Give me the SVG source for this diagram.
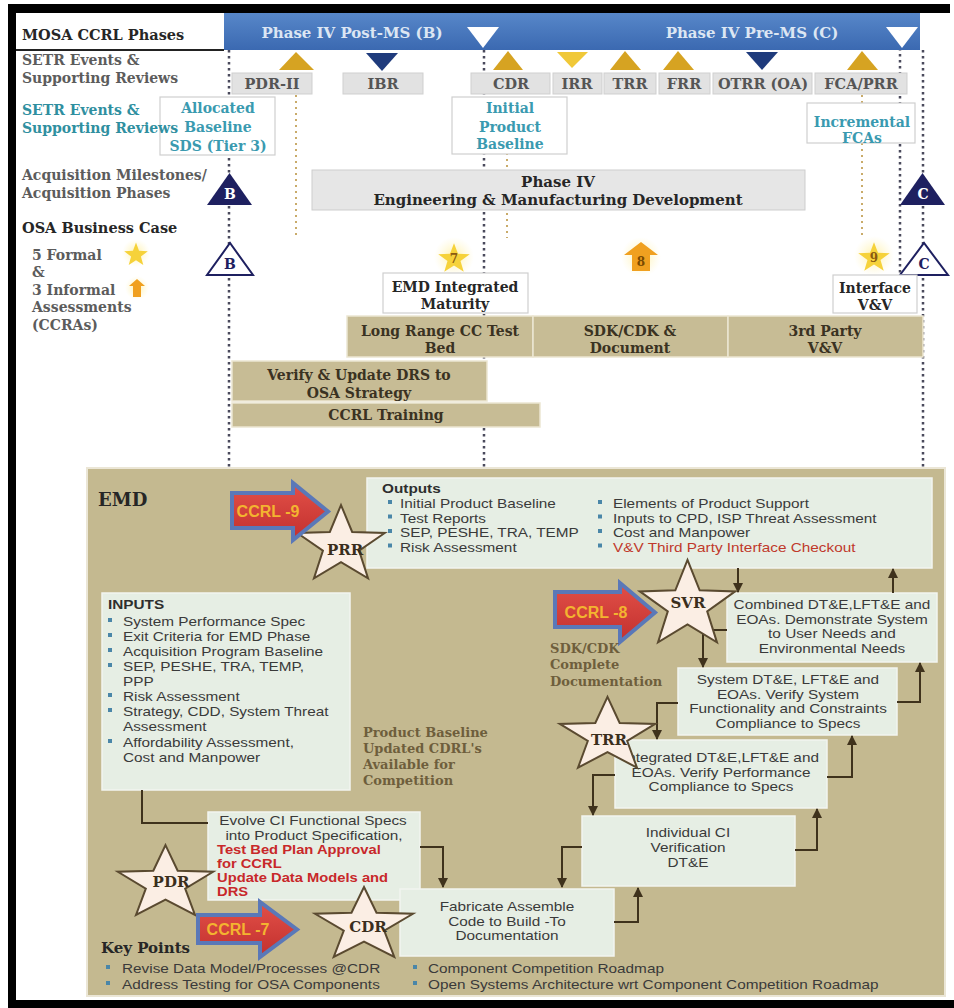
<svg xmlns="http://www.w3.org/2000/svg" width="954" height="1008" viewBox="0 0 954 1008">
<defs>
<linearGradient id="blueBar" x1="0" y1="0" x2="0" y2="1">
<stop offset="0" stop-color="#5787c9"/><stop offset="1" stop-color="#3b69b1"/>
</linearGradient>
<linearGradient id="ccrlFill" x1="0" y1="0" x2="0" y2="1">
<stop offset="0" stop-color="#e25048"/><stop offset="1" stop-color="#c2302e"/>
</linearGradient>
<radialGradient id="glow">
<stop offset="0" stop-color="#fff0a0" stop-opacity="0.95"/><stop offset="1" stop-color="#fff6c8" stop-opacity="0"/>
</radialGradient>
<path id="star" d="M0,-46 L11.17,-15.37 L43.75,-14.21 L18.07,5.87 L27.04,37.21 L0,19 L-27.04,37.21 L-18.07,5.87 L-43.75,-14.21 L-11.17,-15.37 Z" vector-effect="non-scaling-stroke"/>
<marker id="ah" viewBox="0 0 10 10" refX="9" refY="5" markerWidth="5" markerHeight="5" orient="auto" markerUnits="strokeWidth">
<path d="M0,0 L10,5 L0,10 Z" fill="#3f321c"/>
</marker>
<style>
.ser{font-family:"DejaVu Serif","Liberation Serif",serif;font-weight:bold}
.sans{font-family:"Liberation Sans",Arial,sans-serif}
.mid{text-anchor:middle}
.gray{fill:#5c5c5c;font-size:14px}
.dark{fill:#262626}
.teal{fill:#2f8fa0;font-size:14px}
.hdr{fill:#dce6f3;font-size:15px}
.setr{fill:#e2e2e2;stroke:#cfcfcf;stroke-width:1}
.setrT{fill:#555;font-size:14.5px}
.gold{fill:#d6a322}
.navy{fill:#1f3b7c}
.dotD{stroke:#4a4a5c;stroke-width:2.5;stroke-dasharray:2.5 3.5;fill:none}
.dotT{stroke:#c9ab6a;stroke-width:2;stroke-dasharray:2 4;fill:none}
.wbox{fill:#ffffff;stroke:#cfcfcf;stroke-width:1.2}
.tan{fill:#c7bc95;stroke:#ece6d2;stroke-width:1.5}
.tanT{fill:#3a3222;font-size:14px}
.emd{fill:#c4b990;stroke:#ebe6d6;stroke-width:2}
.gbox{fill:#e6eee4;stroke:#f2f5f0;stroke-width:1.5}
.body{fill:#3a3a3a;font-size:13px}
.hd{fill:#2e2e2e;font-size:13px;font-weight:bold}
.red{fill:#c8282a;font-size:12.5px;font-weight:bold}
.blt{fill:#4a86a8}
.bstar{fill:#fbeee4;stroke:#5a4a30;stroke-width:2}
.starT{fill:#3a2e1c;font-size:15px}
.ccrl{fill:url(#ccrlFill);stroke:#5a78b8;stroke-width:4;stroke-linejoin:miter}
.ccrlT{fill:#f3b430;font-size:16px;font-weight:bold}
.brown{fill:#6e5e3c;font-size:13px}
.conn{fill:none;stroke:#3f321c;stroke-width:2}
</style>
</defs>

<g id="frame">
<rect x="0" y="0" width="954" height="1008" fill="#ffffff"/>
<rect x="8" y="4" width="942" height="9" fill="#000"/>
<rect x="8" y="4" width="8" height="1004" fill="#000"/>
<rect x="8" y="1000" width="946" height="8" fill="#000"/>
</g>

<g id="guides">
<line class="dotD" x1="229" y1="50" x2="229" y2="468"/>
<line class="dotD" x1="484" y1="50" x2="484" y2="468"/>
<line class="dotD" x1="900" y1="48" x2="900" y2="275"/>
<line class="dotD" x1="923" y1="50" x2="923" y2="468"/>
<line class="dotT" x1="296" y1="95" x2="296" y2="238"/>
<line class="dotT" x1="507" y1="153" x2="507" y2="238"/>
<line class="dotT" x1="862" y1="95" x2="862" y2="238"/>
</g>

<g id="phase-bar">
<rect x="224" y="13" width="696" height="37" fill="url(#blueBar)"/>
<text class="ser hdr mid" x="352" y="38">Phase IV Post-MS (B)</text>
<text class="ser hdr mid" x="752" y="38">Phase IV Pre-MS (C)</text>
<polygon points="467,27 499,27 483,48" fill="#ffffff"/>
<polygon points="886,27 918,27 902,48" fill="#ffffff"/>
</g>

<g id="row-labels">
<text class="ser dark" x="22" y="40" font-size="14.5">MOSA CCRL Phases</text>
<rect x="16" y="49" width="208" height="2" fill="#222"/>
<text class="ser gray" x="22" y="65">SETR Events &amp;</text>
<text class="ser gray" x="22" y="83">Supporting Reviews</text>
<text class="ser gray" x="22" y="180">Acquisition Milestones/</text>
<text class="ser gray" x="22" y="198">Acquisition Phases</text>
<text class="ser dark" x="22" y="233" font-size="14.5">OSA Business Case</text>
<text class="ser gray" x="32" y="260">5 Formal</text>
<text class="ser gray" x="32" y="277">&amp;</text>
<text class="ser gray" x="32" y="295">3 Informal</text>
<text class="ser gray" x="32" y="312">Assessments</text>
<text class="ser gray" x="32" y="330">(CCRAs)</text>
</g>

<g id="legend-icons">
<circle cx="136" cy="253" r="14" fill="url(#glow)"/>
<use href="#star" transform="translate(136,255) scale(0.27)" fill="#f6d23a"/>
<circle cx="137" cy="288" r="12" fill="url(#glow)"/>
<polygon points="137,279 145,286 141,286 141,297 133,297 133,286 129,286" fill="#f0a020"/>
</g>

<g id="setr-reviews">
<g id="pdr2"><polygon class="gold" points="279,70 314,70 296,52"/><rect class="setr" x="232" y="73" width="80" height="21"/><text class="ser setrT mid" x="272" y="89">PDR-II</text></g>
<g id="ibr"><polygon class="navy" points="366,53 398,53 382,71"/><rect class="setr" x="343" y="73" width="80" height="21"/><text class="ser setrT mid" x="383" y="89">IBR</text></g>
<g id="cdr-top"><polygon class="gold" points="493,70 523,70 508,51"/><rect class="setr" x="471" y="73" width="79" height="21"/><text class="ser setrT mid" x="511" y="89">CDR</text></g>
<g id="irr"><polygon points="557,52 588,52 572,68" fill="#f0c838"/><rect class="setr" x="553" y="73" width="49" height="21"/><text class="ser setrT mid" x="577" y="89">IRR</text></g>
<g id="trr-top"><polygon class="gold" points="610,70 641,70 625,51"/><rect class="setr" x="604" y="73" width="52" height="21"/><text class="ser setrT mid" x="630" y="89">TRR</text></g>
<g id="frr"><polygon class="gold" points="663,70 694,70 678,51"/><rect class="setr" x="659" y="73" width="51" height="21"/><text class="ser setrT mid" x="684" y="89">FRR</text></g>
<g id="otrr"><polygon class="navy" points="746,52 778,52 762,70"/><rect class="setr" x="713" y="73" width="99" height="21"/><text class="ser setrT mid" x="763" y="89">OTRR (OA)</text></g>
<g id="fca-prr"><polygon class="gold" points="847,70 878,70 862,51"/><rect class="setr" x="815" y="73" width="92" height="21"/><text class="ser setrT mid" x="861" y="89">FCA/PRR</text></g>
</g>

<g id="allocated-baseline">
<rect class="wbox" x="160" y="97" width="115" height="58"/>
<text class="ser mid" x="218" y="113" font-size="14" fill="#3a9ab0">Allocated</text>
<text class="ser mid" x="218" y="132" font-size="14" fill="#3a9ab0">Baseline</text>
<text class="ser mid" x="218" y="151" font-size="14" fill="#3a9ab0">SDS (Tier 3)</text>
</g>
<g id="setr-teal-label">
<text class="ser teal" x="22" y="115">SETR Events &amp;</text>
<text class="ser teal" x="22" y="133">Supporting Reviews</text>
</g>

<g id="initial-product-baseline">
<rect class="wbox" x="452" y="97" width="115" height="57"/>
<text class="ser mid" x="510" y="113" font-size="14" fill="#3a9ab0">Initial</text>
<text class="ser mid" x="510" y="132" font-size="14" fill="#3a9ab0">Product</text>
<text class="ser mid" x="510" y="149" font-size="14" fill="#3a9ab0">Baseline</text>
</g>

<g id="incremental-fcas">
<rect class="wbox" x="807" y="103" width="108" height="40"/>
<text class="ser mid" x="862" y="127" font-size="14" fill="#3a9ab0">Incremental</text>
<text class="ser mid" x="862" y="143" font-size="14" fill="#3a9ab0">FCAs</text>
</g>

<g id="milestone-b">
<polygon points="207,205 252,205 229.5,173" fill="#1e2060"/>
<text class="ser mid" x="230" y="199" font-size="14" fill="#ffffff">B</text>
</g>
<g id="business-case-b">
<polygon points="207,275 253,275 230,243" fill="#ffffff" stroke="#1e2060" stroke-width="2"/>
<text class="ser mid" x="230" y="269" font-size="14" fill="#1e2060">B</text>
</g>
<g id="milestone-c">
<polygon points="900,205 945,205 922.5,173" fill="#1e2060"/>
<text class="ser mid" x="923" y="199" font-size="14" fill="#ffffff">C</text>
</g>
<g id="business-case-c">
<polygon points="900,275 948,275 924,243" fill="#ffffff" stroke="#1e2060" stroke-width="2"/>
<text class="ser mid" x="924" y="269" font-size="14" fill="#1e2060">C</text>
</g>

<g id="phase-iv-emd">
<rect x="312" y="170" width="493" height="40" fill="#e6e6e6" stroke="#cdcdcd" stroke-width="1"/>
<text class="ser dark mid" x="558" y="187" font-size="15">Phase IV</text>
<text class="ser dark mid" x="558" y="205" font-size="15">Engineering &amp; Manufacturing Development</text>
</g>

<g id="assessment-7">
<circle cx="454" cy="257" r="20" fill="url(#glow)"/>
<use href="#star" transform="translate(454,259) scale(0.36,0.34)" fill="#f6d23a"/>
<text class="ser mid" x="454" y="263" font-size="12" fill="#8a5a10">7</text>
</g>
<g id="assessment-8">
<circle cx="641" cy="257" r="20" fill="url(#glow)"/>
<polygon points="641,242 658,255 650,255 650,271 632,271 632,255 624,255" fill="#f0a020"/>
<text class="ser mid" x="641" y="266" font-size="12" fill="#7a4a00">8</text>
</g>
<g id="assessment-9">
<circle cx="874" cy="256" r="20" fill="url(#glow)"/>
<use href="#star" transform="translate(874,258) scale(0.36,0.34)" fill="#f6d23a"/>
<text class="ser mid" x="874" y="262" font-size="12" fill="#8a5a10">9</text>
</g>

<g id="emd-integrated-maturity">
<rect class="wbox" x="383" y="273" width="145" height="40"/>
<text class="ser dark mid" x="455" y="292" font-size="14">EMD Integrated</text>
<text class="ser dark mid" x="455" y="309" font-size="14">Maturity</text>
</g>
<g id="interface-vv">
<rect class="wbox" x="833" y="275" width="84" height="38"/>
<text class="ser dark mid" x="875" y="293" font-size="14">Interface</text>
<text class="ser dark mid" x="875" y="310" font-size="14">V&amp;V</text>
</g>

<g id="long-range-test-bed">
<rect class="tan" x="347" y="316" width="186" height="41"/>
<text class="ser tanT mid" x="440" y="336">Long Range CC Test</text>
<text class="ser tanT mid" x="440" y="353">Bed</text>
</g>
<g id="sdk-cdk-document">
<rect class="tan" x="533" y="316" width="195" height="41"/>
<text class="ser tanT mid" x="630" y="336">SDK/CDK &amp;</text>
<text class="ser tanT mid" x="630" y="353">Document</text>
</g>
<g id="third-party-vv">
<rect class="tan" x="728" y="316" width="195" height="41"/>
<text class="ser tanT mid" x="825" y="336">3rd Party</text>
<text class="ser tanT mid" x="825" y="353">V&amp;V</text>
</g>
<g id="verify-update-drs">
<rect class="tan" x="232" y="361" width="255" height="40"/>
<text class="ser tanT mid" x="359" y="380">Verify &amp; Update DRS to</text>
<text class="ser tanT mid" x="359" y="398">OSA Strategy</text>
</g>
<g id="ccrl-training">
<rect class="tan" x="232" y="403" width="308" height="24"/>
<text class="ser tanT mid" x="386" y="420">CCRL Training</text>
</g>

<g id="emd-panel">
<rect class="emd" x="87" y="468" width="858" height="528"/>
<text class="ser dark" x="98" y="506" font-size="18">EMD</text>
</g>

<g id="outputs">
<rect class="gbox" x="367" y="478" width="565" height="90"/>
<rect class="blt" x="388" y="500" width="4" height="4"/>
<rect class="blt" x="388" y="514.5" width="4" height="4"/>
<rect class="blt" x="388" y="529" width="4" height="4"/>
<rect class="blt" x="388" y="543.5" width="4" height="4"/>
<rect class="blt" x="598" y="500" width="4" height="4"/>
<rect class="blt" x="598" y="514.5" width="4" height="4"/>
<rect class="blt" x="598" y="529" width="4" height="4"/>
<rect class="blt" x="598" y="543.5" width="4" height="4"/>
<g transform="matrix(1.18,0,0,1,-68.76,0)">
<text class="sans hd" x="382" y="493.4">Outputs</text>
</g>
<g transform="matrix(1.18,0,0,1,-72,0)">
<text class="sans body" x="400" y="508">Initial Product Baseline</text>
<text class="sans body" x="400" y="522.6">Test Reports</text>
<text class="sans body" x="400" y="537.2">SEP, PESHE, TRA, TEMP</text>
<text class="sans body" x="400" y="551.8">Risk Assessment</text>
</g>
<g transform="matrix(1.18,0,0,1,-110.34,0)">
<text class="sans body" x="613" y="508">Elements  of Product Support</text>
<text class="sans body" x="613" y="522.6">Inputs to CPD, ISP Threat Assessment</text>
<text class="sans body" x="613" y="537.2">Cost and Manpower</text>
<text class="sans" x="613" y="551.8" font-size="13" fill="#c0392b">V&amp;V Third Party Interface Checkout</text>
</g>
</g>

<g id="inputs">
<rect class="gbox" x="102" y="593" width="248" height="197"/>
<rect class="blt" x="108" y="618" width="4" height="4"/>
<rect class="blt" x="108" y="633" width="4" height="4"/>
<rect class="blt" x="108" y="648" width="4" height="4"/>
<rect class="blt" x="108" y="663" width="4" height="4"/>
<rect class="blt" x="108" y="693" width="4" height="4"/>
<rect class="blt" x="108" y="708" width="4" height="4"/>
<rect class="blt" x="108" y="739" width="4" height="4"/>
<g transform="matrix(1.18,0,0,1,-19.44,0)">
<text class="sans hd" x="108" y="609">INPUTS</text>
</g>
<g transform="matrix(1.18,0,0,1,-22.14,0)">
<text class="sans body" x="123" y="626">System Performance Spec</text>
<text class="sans body" x="123" y="641">Exit  Criteria  for EMD Phase</text>
<text class="sans body" x="123" y="656">Acquisition  Program Baseline</text>
<text class="sans body" x="123" y="671">SEP, PESHE, TRA, TEMP,</text>
<text class="sans body" x="123" y="686">PPP</text>
<text class="sans body" x="123" y="701">Risk Assessment</text>
<text class="sans body" x="123" y="716">Strategy, CDD, System Threat</text>
<text class="sans body" x="123" y="731">Assessment</text>
<text class="sans body" x="123" y="747">Affordability Assessment,</text>
<text class="sans body" x="123" y="762">Cost and Manpower</text>
</g>
</g>

<g id="combined-dte">
<rect class="gbox" x="727" y="593" width="210" height="69"/>
<g transform="matrix(1.18,0,0,1,-149.76,0)">
<text class="sans body mid" x="832" y="609">Combined DT&amp;E,LFT&amp;E and</text>
<text class="sans body mid" x="832" y="623.6">EOAs.  Demonstrate System</text>
<text class="sans body mid" x="832" y="638.2">to User Needs and</text>
<text class="sans body mid" x="832" y="652.8">Environmental Needs</text>
</g>
</g>
<g id="system-dte">
<rect class="gbox" x="678" y="668" width="219" height="67"/>
<g transform="matrix(1.18,0,0,1,-141.84,0)">
<text class="sans body mid" x="788" y="684">System DT&amp;E, LFT&amp;E and</text>
<text class="sans body mid" x="788" y="698.6">EOAs.  Verify System</text>
<text class="sans body mid" x="788" y="713.2">Functionality  and Constraints</text>
<text class="sans body mid" x="788" y="727.8">Compliance to Specs</text>
</g>
</g>
<g id="integrated-dte">
<rect class="gbox" x="615" y="740" width="212" height="68"/>
<g transform="matrix(1.18,0,0,1,-129.78,0)">
<text class="sans body mid" x="721" y="762">Integrated DT&amp;E,LFT&amp;E and</text>
<text class="sans body mid" x="721" y="776.6">EOAs.  Verify Performance</text>
<text class="sans body mid" x="721" y="791.2">Compliance to Specs</text>
</g>
</g>
<g id="individual-ci">
<rect class="gbox" x="582" y="816" width="213" height="70"/>
<g transform="matrix(1.18,0,0,1,-123.84,0)">
<text class="sans body mid" x="688" y="837">Individual CI</text>
<text class="sans body mid" x="688" y="852">Verification</text>
<text class="sans body mid" x="688" y="867">DT&amp;E</text>
</g>
</g>
<g id="evolve-ci">
<rect class="gbox" x="208" y="812" width="212" height="88"/>
<g transform="matrix(1.18,0,0,1,-39.06,0)">
<text class="sans body mid" x="298.4" y="825">Evolve CI Functional Specs</text>
<text class="sans body mid" x="299.2" y="839.6">into Product Specification,</text>
<text class="sans red" x="217" y="853.8">Test Bed Plan Approval</text>
<text class="sans red" x="217" y="867.8">for CCRL</text>
<text class="sans red" x="217" y="881.8">Update Data Models and</text>
<text class="sans red" x="217" y="895.8">DRS</text>
</g>
</g>
<g id="fabricate">
<rect class="gbox" x="400" y="889" width="214" height="67"/>
<g transform="matrix(1.18,0,0,1,-91.26,0)">
<text class="sans body mid" x="507" y="911">Fabricate  Assemble</text>
<text class="sans body mid" x="507" y="925.6">Code to Build -To</text>
<text class="sans body mid" x="507" y="940.2">Documentation</text>
</g>
</g>

<g id="connectors">
<path class="conn" d="M142,790 V823 H208"/>
<path class="conn" d="M420,847 H443 V887" marker-end="url(#ah)"/>
<path class="conn" d="M614,922 H638 V888" marker-end="url(#ah)"/>
<path class="conn" d="M582,847 H562 V887" marker-end="url(#ah)"/>
<path class="conn" d="M795,850 H817 V809" marker-end="url(#ah)"/>
<path class="conn" d="M615,775 H593 V815" marker-end="url(#ah)"/>
<path class="conn" d="M827,777 H852 V736" marker-end="url(#ah)"/>
<path class="conn" d="M678,703 H657 V739" marker-end="url(#ah)"/>
<path class="conn" d="M897,702 H920 V663" marker-end="url(#ah)"/>
<path class="conn" d="M727,630 H703 V667" marker-end="url(#ah)"/>
<path class="conn" d="M738,568 V592" marker-end="url(#ah)"/>
<path class="conn" d="M893,593 V569" marker-end="url(#ah)"/>
</g>

<g id="prr-star">
<use href="#star" class="bstar" transform="translate(341,545.5) scale(1,0.88)"/>
<text class="ser starT mid" x="345" y="555">PRR</text>
</g>
<g id="svr-star">
<use href="#star" class="bstar" transform="translate(687.5,605.5) scale(1.09,0.99)"/>
<text class="ser starT mid" x="688" y="608">SVR</text>
</g>
<g id="trr-star">
<use href="#star" class="bstar" transform="translate(607.5,736) scale(1.09,0.85)"/>
<text class="ser starT mid" x="609" y="745">TRR</text>
</g>
<g id="pdr-star">
<use href="#star" class="bstar" transform="translate(165.5,883.7) scale(1.09,0.84)"/>
<text class="ser starT mid" x="171" y="887">PDR</text>
</g>
<g id="cdr-star">
<use href="#star" class="bstar" transform="translate(364,925.7) scale(1.12,0.84)"/>
<text class="ser starT mid" x="368" y="932">CDR</text>
</g>

<g id="ccrl-9">
<polygon class="ccrl" points="232,493 293,493 293,483 328,511.5 293,540 293,528 232,528"/>
<text class="sans ccrlT mid" x="268" y="517">CCRL -9</text>
</g>
<g id="ccrl-8">
<polygon class="ccrl" points="555,592 620,592 620,583 655,612.5 620,642 620,627 555,627"/>
<text class="sans ccrlT mid" x="596" y="618">CCRL -8</text>
</g>
<g id="ccrl-7">
<polygon class="ccrl" points="198,915 260,915 260,902 297,929.5 260,957 260,943 198,943"/>
<text class="sans ccrlT mid" x="238" y="935">CCRL -7</text>
</g>

<g id="sdk-cdk-note">
<text class="ser brown" x="550" y="653">SDK/CDK</text>
<text class="ser brown" x="550" y="669">Complete</text>
<text class="ser brown" x="550" y="686">Documentation</text>
</g>
<g id="product-baseline-note">
<text class="ser brown" x="363" y="737">Product Baseline</text>
<text class="ser brown" x="363" y="753">Updated CDRL's</text>
<text class="ser brown" x="363" y="769">Available for</text>
<text class="ser brown" x="363" y="785">Competition</text>
</g>

<g id="key-points">
<text class="ser dark" x="101" y="953" font-size="15">Key Points</text>
<rect class="blt" x="106" y="965" width="4" height="4"/>
<rect class="blt" x="106" y="981" width="4" height="4"/>
<rect class="blt" x="413" y="965" width="4" height="4"/>
<rect class="blt" x="413" y="981" width="4" height="4"/>
<g transform="matrix(1.18,0,0,1,-21.96,0)">
<text class="sans body" x="122" y="973">Revise Data Model/Processes @CDR</text>
<text class="sans body" x="122" y="989">Address Testing for OSA Components</text>
</g>
<g transform="matrix(1.18,0,0,1,-77.04,0)">
<text class="sans body" x="428" y="973">Component Competition Roadmap</text>
<text class="sans body" x="428" y="989">Open Systems Architecture wrt Component Competition Roadmap</text>
</g>
</g>
</svg>
